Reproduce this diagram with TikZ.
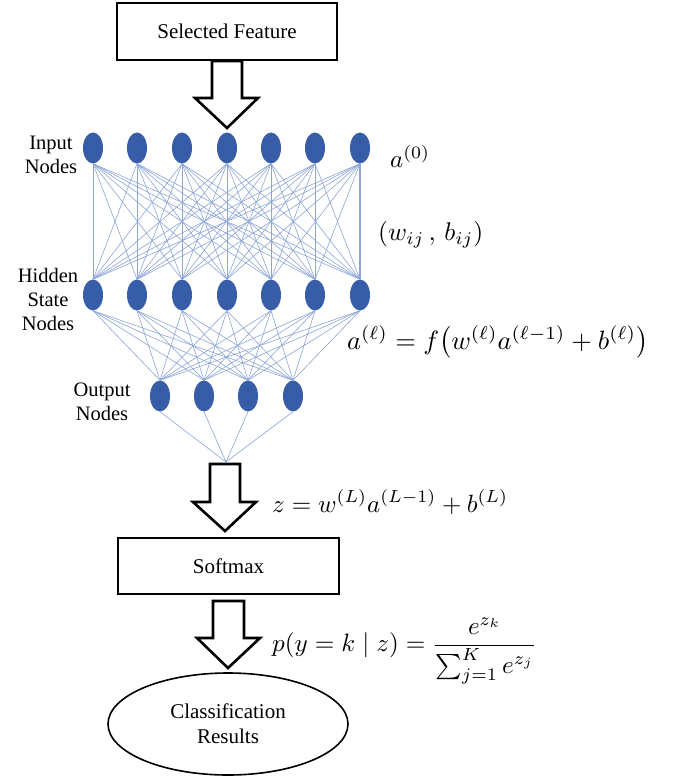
\documentclass[tikz,border=0pt]{standalone}
\usepackage{fontspec}
\setmainfont{Liberation Serif}
\usetikzlibrary{shapes.geometric}
\definecolor{nodeblue}{RGB}{55,92,168}
\definecolor{edgeblue}{RGB}{140,164,214}
\begin{document}
\begin{tikzpicture}[x=1pt,y=-1pt,
  neuron/.style={ellipse,fill=nodeblue,draw=none,minimum width=20pt,minimum height=31pt,inner sep=0pt},
  edge/.style={draw=edgeblue,line width=0.6pt},
  boxnode/.style={draw=black,line width=1.6pt,rectangle,inner sep=0pt,font=\fontsize{21}{25}\selectfont},
  blockarrow/.style={draw=black,line width=2.6pt,fill=white,line join=miter},
  lbl/.style={font=\fontsize{20.5}{24}\selectfont,align=center,inner sep=0pt},
  mathlbl/.style={inner sep=0pt,anchor=west}]
\useasboundingbox (0,0) rectangle (676,778);
% boxes
\node[boxnode,minimum width=220pt,minimum height=57pt] (sel) at (227,31.5) {Selected Feature};
\node[boxnode,minimum width=221pt,minimum height=56pt] (soft) at (228.5,566) {Softmax};
\node[boxnode,ellipse,minimum width=240pt,minimum height=102pt,align=center,font=\fontsize{21}{25}\selectfont] (res) at (228,724) {Classification\\Results};
% neurons
\foreach \i/\x in {1/93,2/137,3/182,4/227,5/271,6/315,7/360}{
  \node[neuron] (i\i) at (\x,148) {};
  \node[neuron] (h\i) at (\x,295) {};
}
\foreach \i/\x in {1/160,2/204,3/248,4/293}{
  \node[neuron] (o\i) at (\x,396) {};
}
\coordinate (conv) at (226,462);
% edges
\foreach \a in {1,...,7}{
  \foreach \b in {1,...,7}{
    \draw[edge] (i\a.south) -- (h\b.north);
  }
  \foreach \c in {1,...,4}{
    \draw[edge] (h\a.south) -- (o\c.north);
  }
}
\draw[edgeblue,line width=1.1pt] (i7.south) -- (h7.north);
\foreach \c in {1,...,4}{
  \draw[edge] (o\c.south) -- (conv);
}
% block arrows
\draw[blockarrow] (212,61) -- (242,61) -- (242,98) -- (258,98) -- (227,128) -- (195,98) -- (212,98) -- cycle;
\draw[blockarrow] (210,464) -- (240,464) -- (240,502) -- (256,502) -- (225,531) -- (193,502) -- (210,502) -- cycle;
\draw[blockarrow] (213,601) -- (244,601) -- (244,638) -- (260,638) -- (228,668) -- (197,638) -- (213,638) -- cycle;
% labels
\node[lbl] (lin) at (51,155) {Input\\Nodes};
\node[lbl] (lhid) at (48,299) {Hidden\\State\\Nodes};
\node[lbl] (lout) at (102,402) {Output\\Nodes};
% math
\node[mathlbl] (m0) at (390,156) {\resizebox{40pt}{!}{$a^{(0)}$}};
\node[mathlbl] (mw) at (378,235) {\resizebox{105pt}{!}{$(w_{ij}\,,\,b_{ij})$}};
\node[mathlbl] (ml) at (347,342) {\resizebox{301pt}{!}{$a^{(\ell)}=f\bigl(w^{(\ell)}a^{(\ell-1)}+b^{(\ell)}\bigr)$}};
\node[mathlbl] (mz) at (272,502) {\resizebox{236pt}{!}{$z=w^{(L)}a^{(L-1)}+b^{(L)}$}};
\node[mathlbl] (mp) at (272,651) {\resizebox{265pt}{!}{$p(y=k\mid z)=\displaystyle\frac{e^{z_k}}{\textstyle\sum_{j=1}^{K}e^{z_j}}$}};
\end{tikzpicture}
\end{document}
